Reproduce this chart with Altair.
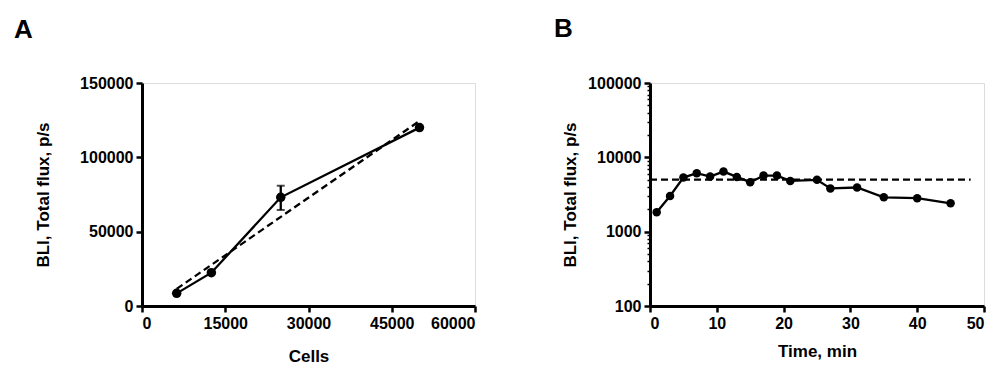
import altair as alt
import pandas as pd

# Panel A data
cells = [6250, 12500, 25000, 50000]
flux_a = [8500, 22400, 73100, 120000]
err_x = [25000]
err_lo = [64600]
err_hi = [80900]
fit_x = [6250, 50000]
fit_y = [11500, 124500]

# Panel B data
time_min = [1, 3, 5, 7, 9, 11, 13, 15, 17, 19, 21, 25, 27, 31, 35, 40, 45]
flux_b = [1820, 3020, 5340, 6120, 5510, 6430, 5450, 4630, 5680, 5680, 4820,
          4980, 3820, 3930, 2900, 2820, 2410]
ref_x = [0, 48]
ref_y = [5000, 5000]

x_ticks_a = [0, 15000, 30000, 45000, 60000]
y_ticks_a = [0, 50000, 100000, 150000]
x_ticks_b = [0, 10, 20, 30, 40, 50]
y_major_b = [100, 1000, 10000, 100000]
y_ticks_b = [100, 200, 300, 400, 500, 600, 700, 800, 900,
             1000, 2000, 3000, 4000, 5000, 6000, 7000, 8000, 9000,
             10000, 20000, 30000, 40000, 50000, 60000, 70000, 80000, 90000,
             100000]

FONT = "Liberation Sans"


def axis(values, title, title_pad, **kw):
    base = dict(values=values, title=title, format="d", grid=False,
                domainColor="black", domainWidth=3, tickColor="black",
                tickWidth=2.5, tickSize=6, labelFont=FONT, labelFontSize=16,
                labelFontWeight="bold", labelColor="black", labelPadding=3,
                labelOverlap=False, titleFont=FONT, titleFontSize=17,
                titleFontWeight="bold", titleColor="black",
                titlePadding=title_pad)
    base.update(kw)
    return alt.Axis(**base)


# ---------- Panel A ----------
df_a = pd.DataFrame({"x": cells, "y": flux_a})
df_err = pd.DataFrame({"x": err_x, "lo": err_lo, "hi": err_hi})
df_fit = pd.DataFrame({"x": fit_x, "y": fit_y})

xa = alt.X("x:Q", scale=alt.Scale(domain=[0, 60000], nice=False),
           axis=axis(x_ticks_a, "Cells", 17))
ya = alt.Y("y:Q", scale=alt.Scale(domain=[0, 150000], nice=False),
           axis=axis(y_ticks_a, "BLI, Total flux, p/s", 27))

a_line = alt.Chart(df_a).mark_line(color="black", strokeWidth=2.3).encode(x=xa, y=ya)
a_pts = alt.Chart(df_a).mark_point(filled=True, color="black", size=90, opacity=1).encode(x=xa, y=ya)
a_fit = alt.Chart(df_fit).mark_line(color="black", strokeWidth=2.3, strokeDash=[7, 4]).encode(x=xa, y=ya)
a_rule = alt.Chart(df_err).mark_rule(color="black", strokeWidth=2.3).encode(
    x=alt.X("x:Q"), y=alt.Y("lo:Q"), y2="hi:Q")
a_cap1 = alt.Chart(df_err).mark_tick(color="black", orient="horizontal", size=8, thickness=2).encode(
    x=alt.X("x:Q"), y=alt.Y("lo:Q"))
a_cap2 = alt.Chart(df_err).mark_tick(color="black", orient="horizontal", size=8, thickness=2).encode(
    x=alt.X("x:Q"), y=alt.Y("hi:Q"))
a_lab = alt.Chart(pd.DataFrame({"t": ["A"]})).mark_text(
    font=FONT, fontSize=26, fontWeight="bold", align="left", baseline="alphabetic", color="black"
).encode(text="t:N", x=alt.value(-128), y=alt.value(-45))

panel_a = alt.layer(a_fit, a_line, a_rule, a_cap1, a_cap2, a_pts, a_lab).properties(width=333, height=223)

# ---------- Panel B ----------
df_b = pd.DataFrame({"x": time_min, "y": flux_b})
df_ref = pd.DataFrame({"x": ref_x, "y": ref_y})

major_test = "indexof([100, 1000, 10000, 100000], datum.value) >= 0"
xb = alt.X("x:Q", scale=alt.Scale(domain=[0, 50], nice=False),
           axis=axis(x_ticks_b, "Time, min", 12))
yb = alt.Y("y:Q", scale=alt.Scale(type="log", domain=[100, 100000], nice=False),
           axis=axis(y_ticks_b, "BLI, Total flux, p/s", 8,
                     labelExpr=major_test + " ? format(datum.value, 'd') : ''",
                     tickSize={"condition": {"test": major_test, "value": 6}, "value": 3},
                     tickWidth={"condition": {"test": major_test, "value": 2.5}, "value": 1.5}))

b_line = alt.Chart(df_b).mark_line(color="black", strokeWidth=2.3).encode(x=xb, y=yb)
b_pts = alt.Chart(df_b).mark_point(filled=True, color="black", size=72, opacity=1).encode(x=xb, y=yb)
b_ref = alt.Chart(df_ref).mark_line(color="black", strokeWidth=2.3, strokeDash=[7, 4]).encode(x=xb, y=yb)
b_lab = alt.Chart(pd.DataFrame({"t": ["B"]})).mark_text(
    font=FONT, fontSize=26, fontWeight="bold", align="left", baseline="alphabetic", color="black"
).encode(text="t:N", x=alt.value(-96), y=alt.value(-46))

panel_b = alt.layer(b_ref, b_line, b_pts, b_lab).properties(width=334, height=223)

chart = alt.hconcat(panel_a, panel_b, spacing=76).properties(
    padding={"left": 5, "top": 7, "right": 5, "bottom": 5}
).configure_view(stroke=None).configure(background="white")

chart.save("out.html", embed_options={"renderer": "svg", "actions": False})
